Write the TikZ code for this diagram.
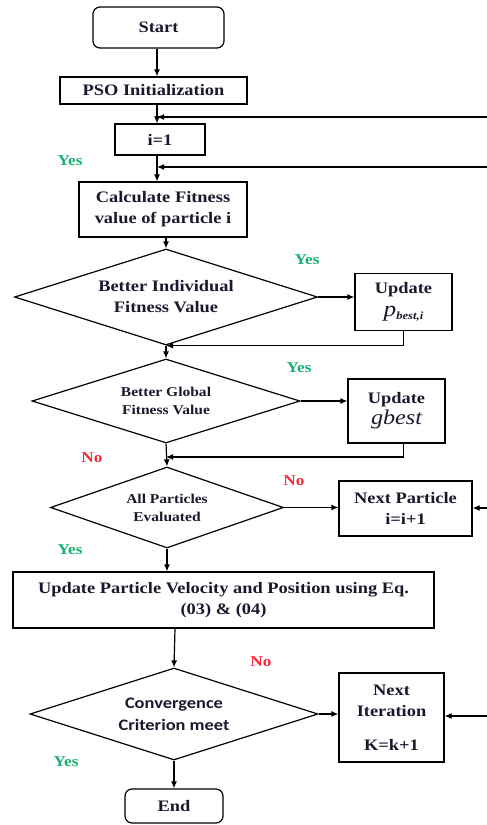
\documentclass[tikz,border=0pt]{standalone}
\usepackage{fontspec}
\setmainfont{Liberation Serif}[FakeStretch=1.15]
\newfontfamily\calfont{Carlito}[FakeStretch=1.15]
\usepackage{tikz}
\usetikzlibrary{shapes.geometric,arrows.meta}
\definecolor{yesgreen}{RGB}{25,175,115}
\definecolor{nored}{RGB}{250,40,60}
\definecolor{inkblue}{RGB}{25,25,45}
\newcommand{\boxfont}{\bfseries\fontsize{16}{21}\selectfont}
\newcommand{\smallboxfont}{\bfseries\fontsize{13.5}{18}\selectfont}
\newcommand{\labelfont}{\bfseries\fontsize{15}{15}\selectfont}

\begin{document}
\begin{tikzpicture}[x=1pt, y=-1pt,
    box/.style={draw, line width=1.2pt, align=center, inner sep=0pt, font=\boxfont, text=inkblue},
    term/.style={box, rounded corners=7pt},
    decision/.style={diamond, draw, line width=1.2pt, align=center, inner sep=0pt, font=\boxfont, text=inkblue},
    arrow/.style={-{Latex[length=7pt,width=6pt]}, line width=1.2pt},
    yes/.style={font=\labelfont, text=yesgreen},
    no/.style={font=\labelfont, text=nored}
]
    \useasboundingbox (0,0) rectangle (487,825);

    \node[term, minimum width=131pt, minimum height=41pt] (start) at (158.5,27.5) {Start};
    \node[box, minimum width=187pt, minimum height=27pt] (pso) at (153.5,90.5) {PSO Initialization};
    \node[box, minimum width=90pt, minimum height=31pt] (i1) at (160,139.5) {i=1};
    \node[box, minimum width=168pt, minimum height=55pt] (calc) at (163,209.5) {Calculate Fitness\\value of particle i};
    \node[decision, aspect=3.16, minimum width=303pt, minimum height=96pt] (d1) at (166,297) {Better Individual\\Fitness Value};
    \node[box, minimum width=97pt, minimum height=57pt] (pbest) at (403.5,302)
        {Update\\[2pt]{\fontsize{22}{22}\selectfont\mdseries\itshape p\raisebox{-3pt}{\fontsize{11}{11}\selectfont\bfseries best,i}}};
    \node[decision, aspect=3.19, minimum width=268pt, minimum height=84pt, font=\smallboxfont] (d2) at (166,401) {Better Global\\Fitness Value};
    \node[box, minimum width=97pt, minimum height=64pt] (gbest) at (396.5,411)
        {Update\\{\fontsize{21}{21}\selectfont\mdseries\itshape gbest}};
    \node[decision, aspect=2.88, minimum width=233pt, minimum height=81pt, font=\smallboxfont] (d3) at (167,507.5) {All Particles\\Evaluated};
    \node[box, minimum width=133pt, minimum height=55pt] (np) at (405.5,508.5) {Next Particle\\i=i+1};
    \node[box, minimum width=421pt, minimum height=56pt] (upd) at (223.5,600) {Update Particle Velocity and Position using Eq.\\(03) \& (04)};
    \node[decision, aspect=3.13, minimum width=288pt, minimum height=92pt, font=\calfont\bfseries\fontsize{16}{22}\selectfont] (d4) at (174,714) {Convergence\\Criterion meet};
    \node[box, minimum width=105pt, minimum height=89pt] (ni) at (391.5,717.5) {Next\\Iteration\\[13pt]K=k+1};
    \node[term, minimum width=98pt, minimum height=34pt] (end) at (174,806) {End};

    \node[yes] (yes1) at (70,161) {Yes};
    \node[yes] (yes2) at (307,260) {Yes};
    \node[yes] (yes3) at (299,368) {Yes};
    \node[no] (no1) at (92,458) {No};
    \node[no] (no2) at (294,481) {No};
    \node[yes] (yes4) at (70,550) {Yes};
    \node[no] (no3) at (261,662) {No};
    \node[yes] (yes5) at (66,762) {Yes};

    \coordinate (sp1) at (157,0);
    \coordinate (sp2) at (166,0);
    \coordinate (sp3) at (175,0);
    \coordinate (fb1) at (487,117);
    \coordinate (fb2) at (487,167);
    \coordinate (fb3) at (487,508);
    \coordinate (fb4) at (487,716);
    \coordinate (m2) at (166,457);

    \draw[arrow] (sp1 |- start.south) -- (sp1 |- pso.north);
    \draw[arrow] (sp1 |- pso.south) -- (sp1 |- i1.north);
    \draw[arrow] (fb1) -- (fb1 -| sp1);
    \draw[arrow] (sp1 |- i1.south) -- (sp1 |- calc.north);
    \draw[arrow] (fb2) -- (fb2 -| sp1);
    \draw[arrow] (sp2 |- calc.south) -- (d1.north);
    \draw[arrow] (d1.east) -- (d1.east -| pbest.west);
    \draw[arrow] (pbest.south) |- (d1.south);
    \draw[arrow] (d1.south) -- (d2.north);
    \draw[arrow] (d2.east) -- (d2.east -| gbest.west);
    \draw[arrow] (gbest.south -| pbest.south) |- (m2);
    \draw[arrow] (d2.south) -- (d3.north);
    \draw[arrow] (d3.east) -- (d3.east -| np.west);
    \draw[arrow] (fb3) -- (fb3 -| np.east);
    \draw[arrow] (d3.south) -- (d3.south |- upd.north);
    \draw[arrow] (sp3 |- upd.south) -- (d4.north);
    \draw[arrow] (d4.east) -- (d4.east -| ni.west);
    \draw[arrow] (fb4) -- (fb4 -| ni.east);
    \draw[arrow] (d4.south) -- (d4.south |- end.north);
\end{tikzpicture}
\end{document}
